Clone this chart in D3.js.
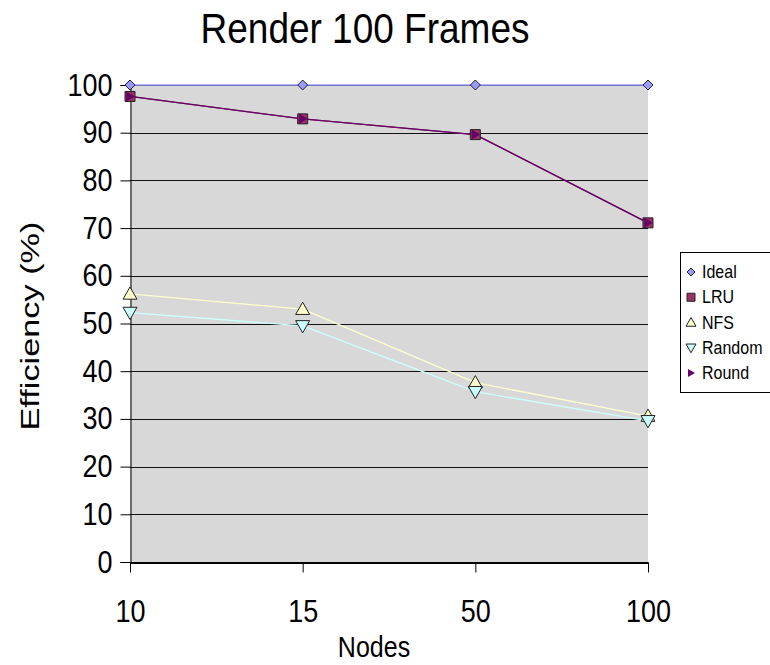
<!DOCTYPE html>
<html>
<head>
<meta charset="utf-8">
<script src="https://cdn.jsdelivr.net/npm/d3@7"></script>
<style>
  html, body { margin: 0; padding: 0; background: #fff; }
  text { font-family: "Liberation Sans", Arial, Helvetica, sans-serif; fill: #000; }
</style>
</head>
<body>
<svg id="chart" width="770" height="665"></svg>
<script>
// ---- data ----
const categories = ["10", "15", "50", "100"];
const ideal  = [100, 100, 100, 100];
const lru    = [97.6, 92.9, 89.6, 71.1];
const nfs    = [56.2, 53.0, 37.6, 30.6];
const random = [52.3, 49.5, 35.7, 29.6];
const round  = [97.6, 92.9, 89.6, 71.1];
const yTicks = [0, 10, 20, 30, 40, 50, 60, 70, 80, 90, 100];
const seriesNames = ["Ideal", "LRU", "NFS", "Random", "Round"];
const titleText = "Render 100 Frames";
const xTitle = "Nodes";
const yTitle = "Efficiency (%)";

const series = [
  { name: "Ideal",  values: ideal,  line: "#9999ff", fill: "#9999ff", shape: "diamond" },
  { name: "LRU",    values: lru,    line: "#993366", fill: "#993366", shape: "square" },
  { name: "NFS",    values: nfs,    line: "#ffffcc", fill: "#ffffcc", shape: "up" },
  { name: "Random", values: random, line: "#ccffff", fill: "#ccffff", shape: "down" },
  { name: "Round",  values: round,  line: "#660066", fill: "#660066", shape: "right" }
];

const svg = d3.select("#chart");
const SY = 1.15; // vertical stretch of text in the original

const plot = { left: 130, right: 648, top: 85, bottom: 562 };
const x = d3.scalePoint().domain(categories).range([plot.left, plot.right]).padding(0);
const y = d3.scaleLinear().domain([0, 100]).range([plot.bottom, plot.top]);

// plot background
svg.append("rect")
  .attr("x", plot.left).attr("y", plot.top)
  .attr("width", plot.right - plot.left).attr("height", plot.bottom - plot.top)
  .attr("fill", "#d8d8d8");

// gridlines
svg.append("g").selectAll("line").data(yTicks.filter(d => d > 0)).join("line")
  .attr("x1", plot.left).attr("x2", plot.right)
  .attr("y1", d => Math.round(y(d)) + 0.5).attr("y2", d => Math.round(y(d)) + 0.5)
  .attr("stroke", "#111").attr("stroke-width", 1);

// y axis
const yAxis = svg.append("g").attr("transform", `translate(${plot.left + 0.5},0)`)
  .call(d3.axisLeft(y).tickValues(yTicks).tickSize(10).tickFormat(d3.format("d")));
yAxis.select(".domain").attr("stroke", "#000");
yAxis.selectAll(".tick line").attr("stroke", "#000");
yAxis.selectAll(".tick text").remove();
yAxis.selectAll(".tick").append("text")
  .attr("text-anchor", "end")
  .attr("font-size", 27)
  .attr("transform", `translate(-18,10) scale(1,${SY})`)
  .text(d => d);

// x axis
const xAxis = svg.append("g").attr("transform", `translate(0,${plot.bottom + 0.5})`)
  .call(d3.axisBottom(x).tickSize(10).tickSizeOuter(0));
xAxis.select(".domain").attr("stroke", "#000").attr("stroke-width", 2);
xAxis.selectAll(".tick line").attr("stroke", "#000");
xAxis.selectAll(".tick text").remove();
xAxis.selectAll(".tick").append("text")
  .attr("text-anchor", "middle")
  .attr("font-size", 27)
  .attr("transform", `translate(0,59) scale(1,${SY})`)
  .text(d => d);

// lines
const lineGen = d3.line().x((d, i) => x(categories[i])).y(d => y(d));
series.forEach(s => {
  svg.append("path").datum(s.values)
    .attr("d", lineGen).attr("fill", "none")
    .attr("stroke", s.line).attr("stroke-width", 1.3);
});

// marker shapes
function markerPath(shape, r) {
  switch (shape) {
    case "diamond": return `M0,${-r}L${r},0L0,${r}L${-r},0Z`;
    case "square":  return `M${-r},${-r}H${r}V${r}H${-r}Z`;
    case "up":      return `M0,${-r}L${r},${r * 0.75}L${-r},${r * 0.75}Z`;
    case "down":    return `M0,${r}L${r},${-r * 0.75}L${-r},${-r * 0.75}Z`;
    case "right":   return `M${r},0L${-r * 0.75},${r}L${-r * 0.75},${-r}Z`;
  }
}
const markerSize = { diamond: 5, square: 5, up: 7, down: 7, right: 5 };
series.forEach(s => {
  svg.append("g").selectAll("path").data(s.values).join("path")
    .attr("transform", (d, i) => `translate(${x(categories[i])},${y(d)})`)
    .attr("d", markerPath(s.shape, markerSize[s.shape]))
    .attr("fill", s.fill)
    .attr("stroke", s.shape === "right" ? "none" : "#222")
    .attr("stroke-width", 1);
});

// title
svg.append("text")
  .attr("text-anchor", "middle").attr("font-size", 37)
  .attr("transform", `translate(365,43) scale(1,${SY})`)
  .text(titleText);

// axis titles
svg.append("text")
  .attr("text-anchor", "middle").attr("font-size", 25)
  .attr("transform", `translate(374,657) scale(1,${SY})`)
  .text(xTitle);
svg.append("text")
  .attr("text-anchor", "middle").attr("font-size", 26)
  .attr("transform", `translate(39,326) rotate(-90) scale(1.32,1)`)
  .text(yTitle);

// legend
const legend = svg.append("g");
legend.append("rect")
  .attr("x", 680.5).attr("y", 252.5).attr("width", 110).attr("height", 140)
  .attr("fill", "#fff").attr("stroke", "#000").attr("stroke-width", 1);
const legendY = d3.scalePoint().domain(seriesNames).range([272, 373]);
series.forEach(s => {
  const g = legend.append("g").attr("transform", `translate(0,${legendY(s.name)})`);
  g.append("path")
    .attr("transform", "translate(691,0)")
    .attr("d", markerPath(s.shape, s.shape === "up" || s.shape === "down" ? 5 : 4))
    .attr("fill", s.fill)
    .attr("stroke", s.shape === "right" ? "none" : "#222").attr("stroke-width", 1);
  g.append("text")
    .attr("font-size", 16)
    .attr("transform", `translate(702,6) scale(1,${SY})`)
    .text(s.name);
});
</script>
</body>
</html>
